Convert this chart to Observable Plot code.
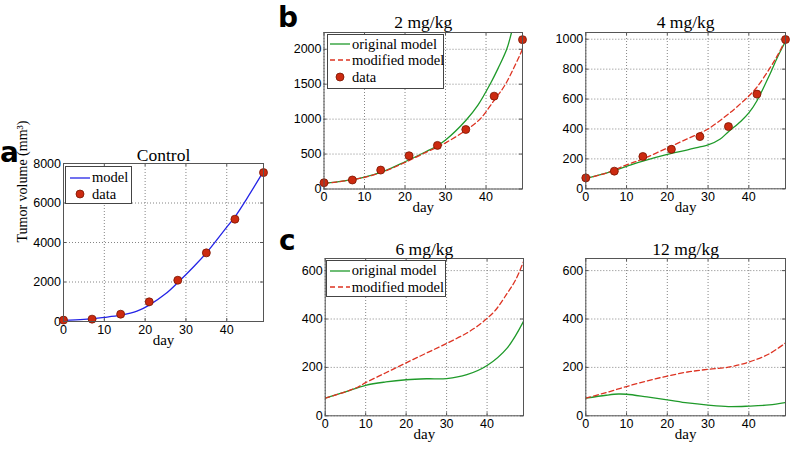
<!DOCTYPE html>
<html><head><meta charset="utf-8">
<script src="https://cdn.jsdelivr.net/npm/d3@7"></script>
<script src="https://cdn.jsdelivr.net/npm/@observablehq/plot@0.6"></script>
<style>
body{margin:0;background:#fff;}
#root{position:relative;width:790px;height:451px;overflow:hidden;background:#fff;}
.pnl{position:absolute;}
.legend{position:absolute;border:1px solid #444;background:#fff;font-family:"Liberation Serif";font-size:14.5px;color:#000;box-sizing:border-box;}
.legend .row{position:absolute;left:0;height:16px;display:flex;align-items:center;white-space:nowrap;}
.legend svg{display:block;}
</style>
</head><body>
<div id="root"></div>
<script>
// ---------- data ----------
const days = [0, 7, 14, 21, 28, 35, 42, 49];
const xTicks = [0, 10, 20, 30, 40];

const controlData = [70, 120, 370, 995, 2090, 3475, 5180, 7540];
const controlModelDays = [0, 5, 10, 14, 18, 21, 25, 28, 32, 35, 40, 42, 45, 49];
const controlModel = [60, 110, 210, 320, 520, 830, 1400, 1970, 2800, 3470, 4780, 5300, 6250, 7600];

const mg2Data = [90, 129, 271, 476, 624, 852, 1329, 2138];
const mg2OrigDays = [0, 5, 10, 15, 20, 25, 28, 30, 35, 38, 41, 43, 45.1, 46.3, 49];
const mg2Orig = [80, 115, 170, 260, 390, 530, 620, 700, 980, 1200, 1500, 1730, 2000, 2240, 2800];
const mg2ModDays = [0, 5, 10, 15, 20, 25, 28, 30, 35, 38.5, 42, 44.8, 49];
const mg2Mod = [80, 115, 168, 255, 380, 520, 600, 660, 840, 1000, 1270, 1500, 2000];

const mg4Data = [73, 118, 216, 264, 349, 416, 633, 998];
const mg4OrigDays = [0, 5, 10, 14, 20, 25, 28, 30, 33, 35, 38, 40, 42, 45, 47, 49];
const mg4Orig = [70, 105, 150, 185, 230, 260, 280, 293, 333, 382, 450, 507, 589, 756, 878, 985];
const mg4ModDays = [0, 5, 10, 14, 20, 25, 28, 30, 35, 38, 40, 42, 45, 47, 49];
const mg4Mod = [70, 105, 160, 200, 273, 335, 373, 400, 500, 570, 620, 680, 800, 890, 995];

const mg6Days = [0, 5, 10, 15, 20, 25, 30, 35, 40, 45, 49];
const mg6Orig = [73, 99, 126, 140, 149, 153, 154, 170, 208, 281, 390];
const mg6ModDays = [0, 5, 8, 10, 15, 20, 25, 30, 35, 38, 40, 42, 45, 47, 49];
const mg6Mod = [73, 99, 118, 137, 178, 219, 259, 299, 342, 375, 403, 435, 507, 560, 637];

const mg12Days = [0, 5, 8, 10, 15, 20, 25, 30, 35, 40, 45, 49];
const mg12Orig = [73, 85, 90, 89, 78, 66, 53, 44, 38, 40, 45, 55];
const mg12ModDays = [0, 5, 10, 15, 20, 25, 30, 35, 40, 45, 49];
const mg12Mod = [73, 96, 121, 144, 164, 181, 192, 201, 222, 256, 301];

// ---------- styles ----------
const BLUE = "#2424e6", GREEN = "#1f9a2a", RED = "#dd3322";
const DOT_FILL = "#cc2a10", DOT_STROKE = "#7a1500";

const zip = (xs, ys) => xs.map((x, i) => ({d: x, v: ys[i]}));
const root = document.getElementById("root");
const plain = d => String(d);

function panel(cfg) {
  const W = cfg.plotW, H = cfg.plotH;
  const marks = [
    Plot.gridX(xTicks, {stroke: "#666", strokeOpacity: 1, strokeDasharray: "1,2", strokeWidth: 0.8}),
    Plot.gridY(cfg.yTicks, {stroke: "#666", strokeOpacity: 1, strokeDasharray: "1,2", strokeWidth: 0.8}),
    // inward MATLAB-style ticks
    Plot.tickX(xTicks, {x: d => d, insetTop: H - 3, stroke: "#555"}),
    Plot.tickX(xTicks, {x: d => d, insetBottom: H - 3, stroke: "#555"}),
    Plot.tickY(cfg.yTicks, {y: d => d, insetRight: W - 3, stroke: "#555"}),
    Plot.tickY(cfg.yTicks, {y: d => d, insetLeft: W - 3, stroke: "#555"}),
    Plot.axisX(xTicks, {tickSize: 0, tickPadding: 3.5, label: null, tickFormat: plain, fontSize: 12.5, fontFamily: "Liberation Sans"}),
    Plot.axisY(cfg.yTicks, {tickSize: 0, tickPadding: 2.5, label: null, tickFormat: plain, fontSize: 12.5, fontFamily: "Liberation Sans"}),
  ];
  for (const s of cfg.lines) {
    marks.push(Plot.line(zip(s.x, s.y), {x: "d", y: "v", stroke: s.color, strokeWidth: 1.3,
      strokeDasharray: s.dash ? "5,3" : null, curve: "catmull-rom", clip: true}));
  }
  if (cfg.dots) {
    marks.push(Plot.dot(zip(days, cfg.dots), {x: "d", y: "v", r: 4, fill: DOT_FILL, stroke: DOT_STROKE, strokeWidth: 0.8}));
  }
  marks.push(Plot.frame({stroke: "#555", strokeWidth: 1}));
  marks.push(Plot.text([cfg.title], {text: d => d, frameAnchor: "top", dy: cfg.titleDy, fontFamily: "Liberation Serif", fontSize: 17.5, fill: "#000"}));
  marks.push(Plot.text(["day"], {text: d => d, frameAnchor: "bottom", dy: 23, fontFamily: "Liberation Serif", fontSize: 15, fill: "#000"}));
  if (cfg.ylabel) {
    marks.push(Plot.text([cfg.ylabel], {text: d => d, frameAnchor: "left", rotate: -90, dx: -41, fontFamily: "Liberation Serif", fontSize: 14, fill: "#000"}));
  }
  const svg = Plot.plot({
    width: cfg.ml + W + cfg.mr,
    height: cfg.mt + H + cfg.mb,
    marginLeft: cfg.ml, marginRight: cfg.mr, marginTop: cfg.mt, marginBottom: cfg.mb,
    x: {domain: [0, 49]},
    y: {domain: cfg.yDomain},
    style: {fontFamily: "Liberation Sans", fontSize: "12.5px", color: "#000", background: "transparent", overflow: "visible"},
    marks
  });
  svg.classList.add("pnl");
  svg.style.left = cfg.left + "px";
  svg.style.top = cfg.top + "px";
  root.appendChild(svg);
}

// a: Control
panel({left: 0, top: 130, ml: 63, mr: 12, mt: 33, mb: 39, plotW: 200, plotH: 158,
  yDomain: [0, 8000], yTicks: [0, 2000, 4000, 6000, 8000], title: "Control", titleDy: -14.5,
  ylabel: "Tumor volume (mm³)",
  lines: [{x: controlModelDays, y: controlModel, color: BLUE}], dots: controlData});

// b: 2 mg/kg
panel({left: 270, top: 0, ml: 53.5, mr: 8, mt: 32, mb: 36.5, plotW: 198.5, plotH: 156.5,
  yDomain: [0, 2240], yTicks: [0, 500, 1000, 1500, 2000], title: "2 mg/kg", titleDy: -16.5,
  lines: [{x: mg2OrigDays, y: mg2Orig, color: GREEN}, {x: mg2ModDays, y: mg2Mod, color: RED, dash: true}],
  dots: mg2Data});

// b: 4 mg/kg
panel({left: 530, top: 0, ml: 55.3, mr: 5, mt: 32, mb: 36.7, plotW: 199.7, plotH: 156.3,
  yDomain: [0, 1045], yTicks: [0, 200, 400, 600, 800, 1000], title: "4 mg/kg", titleDy: -16.5,
  lines: [{x: mg4OrigDays, y: mg4Orig, color: GREEN}, {x: mg4ModDays, y: mg4Mod, color: RED, dash: true}],
  dots: mg4Data});

// c: 6 mg/kg
panel({left: 270, top: 225, ml: 54.7, mr: 8, mt: 33, mb: 35.7, plotW: 198.3, plotH: 157.3,
  yDomain: [0, 650], yTicks: [0, 200, 400, 600], title: "6 mg/kg", titleDy: -16,
  lines: [{x: mg6Days, y: mg6Orig, color: GREEN}, {x: mg6ModDays, y: mg6Mod, color: RED, dash: true}]});

// c: 12 mg/kg
panel({left: 530, top: 225, ml: 55.3, mr: 5, mt: 33, mb: 35.7, plotW: 199.7, plotH: 157.3,
  yDomain: [0, 650], yTicks: [0, 200, 400, 600], title: "12 mg/kg", titleDy: -16,
  lines: [{x: mg12Days, y: mg12Orig, color: GREEN}, {x: mg12ModDays, y: mg12Mod, color: RED, dash: true}]});

// ---------- legends ----------
function swatch(kind, color) {
  if (kind === "dot") {
    return `<svg width="20" height="16"><circle cx="10" cy="8" r="4" fill="${DOT_FILL}" stroke="${DOT_STROKE}" stroke-width="0.8"/></svg>`;
  }
  const dash = kind === "dash" ? ` stroke-dasharray="5,3"` : "";
  return `<svg width="20" height="16"><line x1="0" y1="8" x2="20" y2="8" stroke="${color}" stroke-width="1.3"${dash}/></svg>`;
}
function legend(box, rows) {
  const div = document.createElement("div");
  div.className = "legend";
  Object.assign(div.style, {left: box.x + "px", top: box.y + "px", width: box.w + "px", height: box.h + "px"});
  rows.forEach(r => {
    const row = document.createElement("div");
    row.className = "row";
    row.style.top = (r.cy - 8) + "px";
    row.style.left = box.sx + "px";
    row.innerHTML = swatch(r.kind, r.color) + `<span style="margin-left:${box.gap}px">${r.label}</span>`;
    div.appendChild(row);
  });
  root.appendChild(div);
}
legend({x: 65, y: 166, w: 67, h: 37.5, sx: 4, gap: 2}, [
  {kind: "line", color: BLUE, label: "model", cy: 10.7},
  {kind: "dot", label: "data", cy: 27.3}
]);
legend({x: 326.5, y: 34, w: 117, h: 54.5, sx: 2.5, gap: 2}, [
  {kind: "line", color: GREEN, label: "original model", cy: 9},
  {kind: "dash", color: RED, label: "modified model", cy: 25},
  {kind: "dot", label: "data", cy: 42.3}
]);
legend({x: 326.3, y: 260.3, w: 119.5, h: 36.5, sx: 2.5, gap: 2}, [
  {kind: "line", color: GREEN, label: "original model", cy: 9.3},
  {kind: "dash", color: RED, label: "modified model", cy: 26}
]);

// ---------- panel letters ----------
const ns = "http://www.w3.org/2000/svg";
const lsvg = document.createElementNS(ns, "svg");
lsvg.setAttribute("width", 790); lsvg.setAttribute("height", 451);
lsvg.style.position = "absolute"; lsvg.style.left = "0"; lsvg.style.top = "0"; lsvg.style.pointerEvents = "none";
[["a", 0, 162], ["b", 278, 27], ["c", 279, 250]].forEach(([t, x, y]) => {
  const el = document.createElementNS(ns, "text");
  el.setAttribute("x", x); el.setAttribute("y", y);
  el.setAttribute("font-family", "DejaVu Sans"); el.setAttribute("font-weight", "700");
  el.setAttribute("font-size", "28");
  el.textContent = t;
  lsvg.appendChild(el);
});
root.appendChild(lsvg);
</script>
</body></html>
